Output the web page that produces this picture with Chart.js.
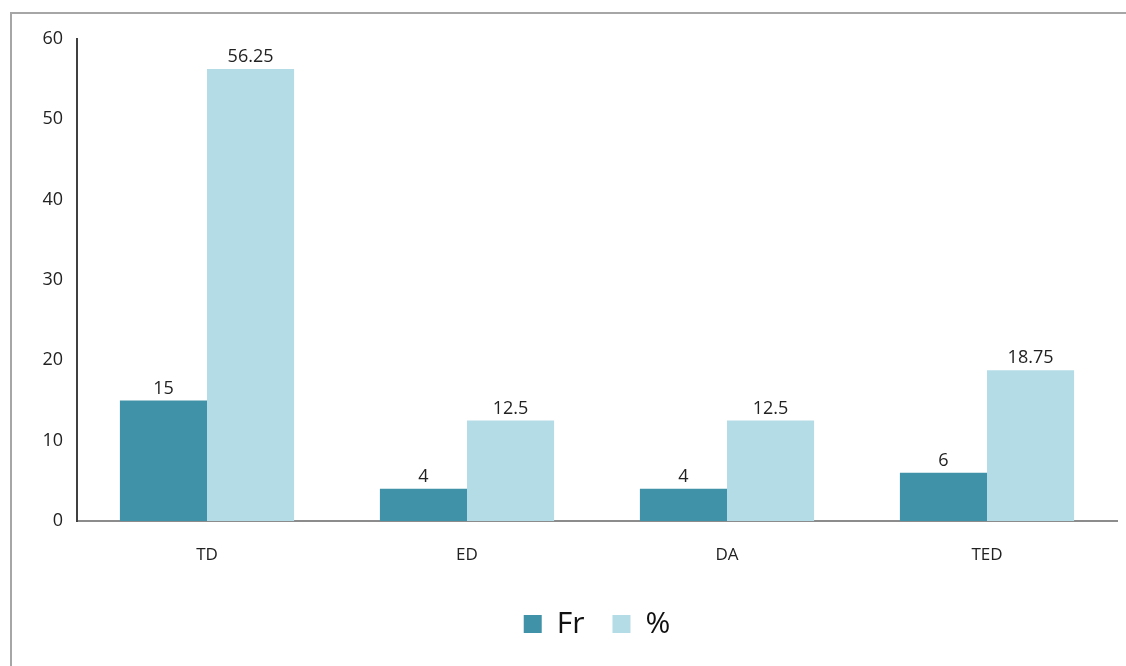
<!DOCTYPE html>
<html>
<head>
<meta charset="utf-8">
<script src="https://cdn.jsdelivr.net/npm/chart.js@4"></script>
<style>
  html, body { margin: 0; padding: 0; background: #fff; }
  #frame {
    position: absolute; left: 10px; top: 12px; width: 1116px; height: 654px;
    border-left: 2px solid #a6a6a6; border-top: 2px solid #a6a6a6;
  }
  #wrap { position: absolute; left: 0; top: 0; width: 1114px; height: 652px; }
</style>
</head>
<body>
<div id="frame"><div id="wrap"><canvas id="chart"></canvas></div></div>
<script>
// data
const categories = ['TD', 'ED', 'DA', 'TED'];
const frValues = [15, 4, 4, 6];
const pctValues = [56.25, 12.5, 12.5, 18.75];
const seriesNames = ['Fr', '%'];
const yTicks = [0, 10, 20, 30, 40, 50, 60];

const FONT = "'Open Sans', 'Noto Sans', sans-serif";

// labels above the bars
const barLabels = {
    id: 'barLabels',
    afterDatasetsDraw(chart) {
        const ctx = chart.ctx;
        ctx.save();
        ctx.font = '18px ' + FONT;
        ctx.fillStyle = '#222';
        ctx.textAlign = 'center';
        ctx.textBaseline = 'bottom';
        chart.data.datasets.forEach((ds, i) => {
            chart.getDatasetMeta(i).data.forEach((bar, j) => {
                ctx.fillText(String(ds.data[j]), bar.x, bar.y - 3);
            });
        });
        ctx.restore();
    }
};

new Chart(document.getElementById('chart'), {
    type: 'bar',
    data: {
        labels: categories,
        datasets: [
            {
                label: seriesNames[0],
                data: frValues,
                backgroundColor: '#4092a8',
                categoryPercentage: 0.67,
                barPercentage: 1.0
            },
            {
                label: seriesNames[1],
                data: pctValues,
                backgroundColor: '#b4dce6',
                categoryPercentage: 0.67,
                barPercentage: 1.0
            }
        ]
    },
    options: {
        responsive: true,
        maintainAspectRatio: false,
        animation: false,
        layout: { padding: { top: 24, right: 9, left: 0, bottom: 17 } },
        plugins: {
            legend: {
                position: 'bottom',
                fullSize: false,
                labels: {
                    font: { size: 30, family: FONT },
                    color: '#111',
                    boxWidth: 18,
                    boxHeight: 18,
                    padding: 28
                }
            },
            tooltip: { enabled: false }
        },
        scales: {
            x: {
                grid: { display: false, drawTicks: false },
                border: { color: '#8c8c8c', width: 2 },
                ticks: { font: { size: 17, family: FONT }, color: '#222', padding: 24 },
                afterFit: s => { s.height = 60; }
            },
            y: {
                min: 0,
                max: 60,
                afterBuildTicks: s => { s.ticks = yTicks.map(v => ({ value: v })); },
                grid: { display: false, drawTicks: false },
                border: { color: '#404040', width: 2 },
                ticks: { font: { size: 18, family: FONT }, color: '#222', padding: 14 },
                afterFit: s => { s.width = 65; }
            }
        }
    },
    plugins: [barLabels]
});
</script>
</body>
</html>
